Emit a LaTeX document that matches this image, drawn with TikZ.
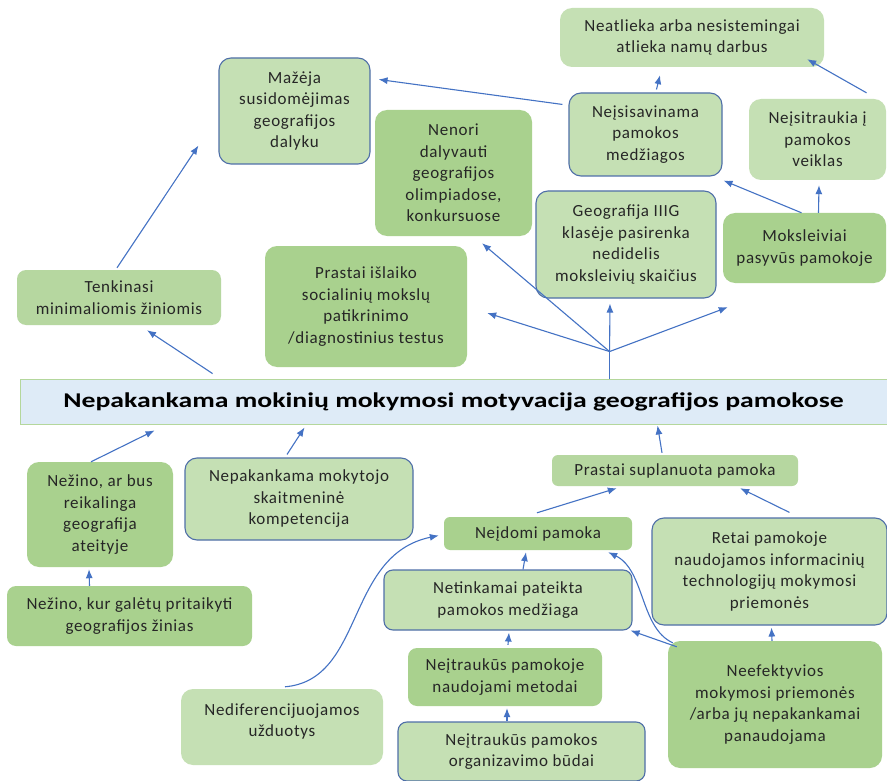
\documentclass[tikz,border=0pt]{standalone}
\usepackage{fontspec}
\setmainfont{Carlito}
\usetikzlibrary{calc,arrows.meta}
\definecolor{lgreen}{HTML}{C5E0B4}
\definecolor{mgreen}{HTML}{B6D7A0}
\definecolor{dgreen}{HTML}{A9D18E}
\definecolor{bborder}{HTML}{4F6FA8}
\definecolor{arrowblue}{HTML}{4472C4}
\definecolor{mainfill}{HTML}{DEEBF7}
\definecolor{mainline}{HTML}{B4D79C}
\begin{document}
\begin{tikzpicture}[x=1pt,y=-1pt,
  box/.style={rectangle,rounded corners=12pt,align=center,inner sep=2pt,
    font=\fontsize{17}{21.5}\selectfont\addfontfeature{LetterSpace=4},text=black!85},
  lbox/.style={box,fill=lgreen},
  mbox/.style={box,fill=mgreen},
  dbox/.style={box,fill=dgreen},
  bbox/.style={box,fill=lgreen,draw=bborder,line width=1.1pt},
  arr/.style={draw=arrowblue,line width=1.1pt,-{Latex[length=9pt,width=7pt]}},
  ln/.style={draw=arrowblue,line width=1.1pt}]
\useasboundingbox (0,0) rectangle (887,781);
\fill[white] (0,0) rectangle (887,781);
% nodes
\node[lbox,minimum width=264pt,minimum height=59pt] (neat) at (692,37.5) {Neatlieka arba nesistemingai\\atlieka namų darbus};
\node[bbox,minimum width=151pt,minimum height=106pt] (maz) at (294.5,111) {Mažėja\\susidomėjimas\\geografijos\\dalyku};
\node[bbox,minimum width=153pt,minimum height=83pt] (neis) at (645.5,134.5) {Neįsisavinama\\pamokos\\medžiagos};
\node[lbox,minimum width=137pt,minimum height=81pt] (neit) at (817.5,139.5) {Neįsitraukia į\\pamokos\\veiklas};
\node[dbox,minimum width=157pt,minimum height=126pt] (nenori) at (453.5,173) {Nenori\\dalyvauti\\geografijos\\olimpiadose,\\konkursuose};
\node[bbox,minimum width=180pt,minimum height=107pt] (geo) at (626,244.5) {Geografija IIIG\\klasėje pasirenka\\nedidelis\\moksleivių skaičius};
\node[dbox,minimum width=163pt,minimum height=70pt] (moks) at (804.5,248) {Moksleiviai\\pasyvūs pamokoje};
\node[mbox,rounded corners=9pt,minimum width=204pt,minimum height=55pt] (tenk) at (119,297.5) {Tenkinasi\\minimaliomis žiniomis};
\node[dbox,minimum width=202pt,minimum height=121pt] (prast) at (366,306.5) {Prastai išlaiko\\socialinių mokslų\\patikrinimo\\/diagnostinius testus};
\node[rectangle,fill=mainfill,draw=mainline,line width=0.9pt,minimum width=867pt,minimum height=45pt,
  font=\bfseries\fontsize{21}{24}\selectfont\addfontfeature{FakeStretch=1.32}] (main) at (453.5,401.5) {Nepakankama mokinių mokymosi motyvacija geografijos pamokose};
\node[dbox,minimum width=146pt,minimum height=105pt] (nezar) at (100,514.5) {Nežino, ar bus\\reikalinga\\geografija\\ateityje};
\node[bbox,minimum width=228pt,minimum height=82pt] (nepmok) at (299,499) {Nepakankama mokytojo\\skaitmeninė\\kompetencija};
\node[mbox,rounded corners=6pt,minimum width=246pt,minimum height=31pt] (prsup) at (675,470.5) {Prastai suplanuota pamoka};
\node[dbox,rounded corners=6pt,minimum width=188pt,minimum height=33pt] (neid) at (538,533.5) {Neįdomi pamoka};
\node[bbox,minimum width=235pt,minimum height=107pt] (retai) at (769.5,571.5) {Retai pamokoje\\naudojamos informacinių\\technologijų mokymosi\\priemonės};
\node[bbox,rounded corners=9pt,minimum width=248pt,minimum height=60pt] (netink) at (508,600) {Netinkamai pateikta\\pamokos medžiaga};
\node[dbox,rounded corners=9pt,minimum width=245pt,minimum height=60pt] (nezkur) at (129.5,616) {Nežino, kur galėtų pritaikyti\\geografijos žinias};
\node[dbox,rounded corners=9pt,minimum width=194pt,minimum height=58pt] (metod) at (505,677) {Neįtraukūs pamokoje\\naudojami metodai};
\node[dbox,minimum width=214pt,minimum height=127pt] (neef) at (775,704.5) {Neefektyvios\\mokymosi priemonės\\/arba jų nepakankamai\\panaudojama};
\node[lbox,minimum width=202pt,minimum height=76pt,text depth=14pt] (nedif) at (282,727) {Nediferencijuojamos\\užduotys};
\node[bbox,rounded corners=9pt,minimum width=247pt,minimum height=59pt] (budai) at (521.5,751.5) {Neįtraukūs pamokos\\organizavimo būdai};
% arrows
\draw[arr] ($(main.north west)+(193,-5)$) -- ($(tenk.south)+(28,5)$);
\draw[arr] ($(tenk.north)+(-2,-2)$) -- ($(maz.south west)+(-20,-19)$);
\draw[arr] ($(neis.north west)+(-6,12)$) -- ($(maz.north east)+(8,22)$);
\draw[arr] ($(neis.north)+(11,-3)$) -- ($(neat.south)+(-32,8)$);
\draw[arr] ($(neit.north)+(49,-6)$) -- ($(neat.south east)+(-17,-8)$);
\draw[arr] ($(moks.north)+(14,0)$) -- ($(neit.south)+(1.5,5)$);
\draw[arr] ($(moks.north)+(-3,0)$) -- ($(neis.south east)+(1,4)$);
\coordinate (hub) at ($(main.north west)+(590,-27)$);
\draw[ln] ($(main.north west)+(590,0)$) -- (hub);
\draw[arr] (hub) -- ($(nenori.south)+(28.5,7)$);
\draw[arr] (hub) -- ($(prast.east)+(20,6.5)$);
\draw[arr] (hub) -- ($(geo.south)+(-16,5)$);
\draw[arr] (hub) -- ($(moks.south west)+(5,24)$);
\draw[arr] ($(nezar.north)+(-9,0)$) -- ($(main.south west)+(135,6)$);
\draw[arr] ($(nepmok.north)+(-12,-3)$) -- ($(main.south west)+(285,3)$);
\draw[arr] ($(nezkur.north)+(-40,0)$) -- ($(nezar.south)+(-11,2)$);
\draw[arr] ($(prsup.north)+(-13,-2)$) -- ($(main.south west)+(638,1)$);
\draw[arr] ($(neid.north)+(-1,-4)$) -- ($(prsup.south west)+(65,2)$);
\draw[arr] ($(retai.north)+(20,-5)$) -- ($(prsup.south east)+(-58,2)$);
\draw[arr] ($(netink.north)+(15,0)$) -- ($(neid.south)+(-12,2)$);
\draw[arr] ($(metod.north)+(3,-3)$) -- ($(netink.south)+(1,2)$);
\draw[arr] ($(budai.north)+(-14.5,0)$) -- ($(metod.south)+(2,2)$);
\draw[arr] ($(neef.north)+(-3,0)$) -- ($(retai.south)+(2,2)$);
\draw[arr] ($(neef.north west)+(9,6)$) -- ($(netink.south east)+(-2,0)$);
\draw[arr] ($(neef.north west)+(5,2)$) .. controls (640,628) and (645,570) .. ($(neid.south east)+(-24,2)$);
\draw[arr] ($(nedif.north)+(3,-2)$) .. controls (365,680) and (345,555) .. ($(neid.west)+(-5,2)$);
\end{tikzpicture}
\end{document}
